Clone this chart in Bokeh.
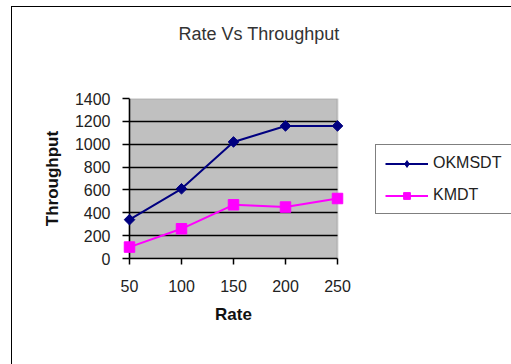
import numpy as np
from bokeh.plotting import figure
from bokeh.models import FixedTicker, Legend, LegendItem, Range1d, BoxAnnotation, Span, Title
from bokeh.embed import file_html
from bokeh.resources import INLINE

# ---- data ----
rates = [50, 100, 150, 200, 250]
okmsdt = [340, 610, 1020, 1160, 1160]
kmdt = [100, 260, 470, 450, 525]
y_ticks = [0, 200, 400, 600, 800, 1000, 1200, 1400]
series_names = ["OKMSDT", "KMDT"]
title_text = "Rate Vs Throughput"

FONT = "Liberation Sans"

# layout helpers (pixels)
inner_w = 208          # width of gray plot area
pad_px = 7             # room so edge markers are not clipped
frame_h = 160
px_per_unit = inner_w / (rates[-1] - rates[0])
pad = pad_px / px_per_unit

p = figure(
    frame_width=inner_w + 2 * pad_px, frame_height=frame_h,
    min_border_left=122, min_border_right=167,
    min_border_top=98, min_border_bottom=106,
    x_range=Range1d(rates[0] - pad, rates[-1] + pad),
    y_range=Range1d(y_ticks[0], y_ticks[-1]),
    output_backend="svg", toolbar_location=None,
)
p.title = None
p.background_fill_color = None
p.border_fill_color = None
p.outline_line_color = None
p.styles = {
    "background": "linear-gradient(#000,#000) 11px 6px/1px 358px no-repeat, "
                  "linear-gradient(#000,#000) 11px 6px/500px 1px no-repeat, #fff"
}

# title: spacer (nearest frame) then the real title above it
p.add_layout(Title(text=" ", text_font_size="2px", standoff=51), "above")
p.add_layout(Title(text=title_text, text_font=FONT, text_font_size="18px",
                   text_font_style="normal", text_color="#333333",
                   align="left", offset=56, standoff=0), "above")

# gray plot area
box = BoxAnnotation(left=rates[0], right=rates[-1], bottom=y_ticks[0], top=y_ticks[-1],
                    fill_color="#C0C0C0", fill_alpha=1.0,
                    line_color="#808080", line_width=2, level="image")
p.add_layout(box)

# y axis line at first category
p.add_layout(Span(location=rates[0], dimension="height", line_color="black",
                  line_width=1.5, level="underlay"))

# series
l1 = p.line(rates, okmsdt, line_color="#000080", line_width=2)
s1_leg = p.scatter(rates, okmsdt, marker="diamond", size=8,
                   fill_color="#000080", line_color="#000080")
s1 = p.scatter(rates, okmsdt, marker="square", angle=np.pi / 4, size=7.5,
               fill_color="#000080", line_color="#000080")
l2 = p.line(rates, kmdt, line_color="#FF00FF", line_width=2)
s2 = p.scatter(rates, kmdt, marker="square", size=10.5,
               fill_color="#FF00FF", line_color="#FF00FF")

# x axis
xa = p.xaxis[0]
xa.ticker = FixedTicker(ticks=rates)
xa.bounds = (rates[0], rates[-1])
xa.axis_line_color = "black"
xa.axis_line_width = 1.5
xa.major_tick_line_color = "black"
xa.major_tick_line_width = 1.5
xa.major_tick_out = 6
xa.major_tick_in = 0
xa.minor_tick_line_color = None
xa.major_label_text_font = FONT
xa.major_label_text_font_size = "16px"
xa.major_label_text_color = "#222222"
xa.major_label_standoff = 15
xa.axis_label = "Rate"
xa.axis_label_text_font = FONT
xa.axis_label_text_font_size = "17px"
xa.axis_label_text_font_style = "bold"
xa.axis_label_text_color = "#111111"
xa.axis_label_standoff = 10

# y axis
ya = p.yaxis[0]
ya.ticker = FixedTicker(ticks=y_ticks)
ya.axis_line_color = None
ya.major_tick_line_color = "black"
ya.major_tick_line_width = 1.5
ya.major_tick_in = pad_px
ya.major_tick_out = 0
ya.minor_tick_line_color = None
ya.major_label_text_font = FONT
ya.major_label_text_font_size = "16px"
ya.major_label_text_color = "#222222"
ya.major_label_standoff = 12
ya.axis_label = "Throughput"
ya.axis_label_text_font = FONT
ya.axis_label_text_font_size = "17px"
ya.axis_label_text_font_style = "bold"
ya.axis_label_text_color = "#111111"
ya.axis_label_standoff = 10

# grid
p.xgrid.visible = False
p.ygrid.ticker = FixedTicker(ticks=y_ticks[1:-1])
p.ygrid.grid_line_color = "black"
p.ygrid.grid_line_width = 1.3
p.ygrid.cross_bounds = (rates[0], rates[-1])

# legend
legend = Legend(
    items=[LegendItem(label=series_names[0], renderers=[l1, s1_leg]),
           LegendItem(label=series_names[1], renderers=[l2, s2])],
    location=(31, 44), margin=0, padding=9, spacing=14,
    glyph_width=43, glyph_height=17, label_height=17, label_width=74,
    label_standoff=5,
    label_text_font=FONT, label_text_font_size="16px", label_text_color="#222222",
    border_line_color="black", border_line_width=1,
    background_fill_color="white", background_fill_alpha=1.0,
)
p.add_layout(legend, "right")

open("out.html", "w").write(file_html(p, INLINE))
